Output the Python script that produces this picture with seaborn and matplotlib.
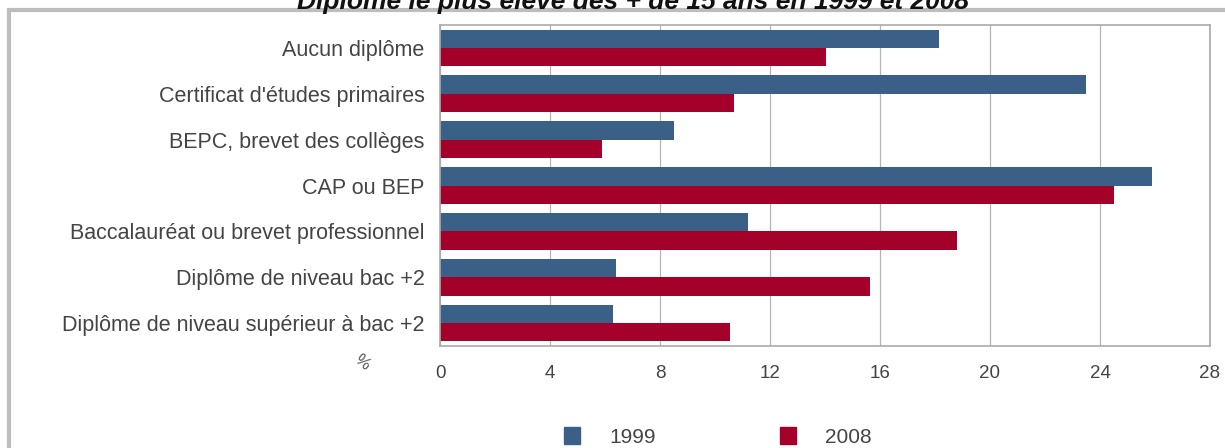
import matplotlib
matplotlib.use("Agg")
import matplotlib.pyplot as plt
import matplotlib.patches as mpatches
import seaborn as sns
import pandas as pd

categories = [
    "Aucun diplôme",
    "Certificat d'études primaires",
    "BEPC, brevet des collèges",
    "CAP ou BEP",
    "Baccalauréat ou brevet professionnel",
    "Diplôme de niveau bac +2",
    "Diplôme de niveau supérieur à bac +2",
]
years = ["1999", "2008"]
values_1999 = [18.15, 23.5, 8.5, 25.9, 11.2, 6.4, 6.3]
values_2008 = [14.05, 10.7, 5.9, 24.5, 18.8, 15.65, 10.55]
xticks = [0, 4, 8, 12, 16, 20, 24, 28]

colors = {"1999": "#3a6088", "2008": "#a3002a"}

df = pd.DataFrame({
    "diplome": categories * 2,
    "pct": values_1999 + values_2008,
    "annee": [years[0]] * len(categories) + [years[1]] * len(categories),
})

sns.set_style("white")
plt.rcParams['font.family'] = ['Liberation Sans', 'DejaVu Sans']

fig = plt.figure(figsize=(12.25, 4.48), dpi=100)
ax = fig.add_axes([440 / 1225, 1 - 346 / 448, 770 / 1225, 321 / 448])

sns.barplot(data=df, y="diplome", x="pct", hue="annee", orient="h",
            palette=colors, saturation=1, width=0.8, linewidth=0, ax=ax, legend=False)

ax.set_xlim(0, 28)
ax.set_xticks(xticks)
ax.set_xticklabels([str(t) for t in xticks], fontsize=13.5, color="#444444")
ax.tick_params(axis="x", length=0, pad=14)
ax.tick_params(axis="y", length=0, pad=11, labelsize=15.5, labelcolor="#444444")
ax.set_xlabel("")
ax.set_ylabel("")
ax.grid(axis="x", color="#b5b5b5", linewidth=0.9)
ax.set_axisbelow(True)
for s in ax.spines.values():
    s.set_color("#aaaaaa")
    s.set_linewidth(1.2)

ax.text(-0.101, -0.05, "%", transform=ax.transAxes, fontsize=12, color="#555555",
        rotation=-40, ha="center", va="center")

# outer frame
fig.patches.append(mpatches.Rectangle((9 / 1225, -0.05), 1.2, 1 - 10 / 448 + 0.05,
                                      transform=fig.transFigure, fill=False,
                                      edgecolor="#bdbdbd", linewidth=3))

fig.text(633 / 1225, 1 - 9 / 448, "Diplôme le plus élevé des + de 15 ans en 1999 et 2008",
         ha="center", va="baseline", fontsize=19, fontweight="bold",
         fontstyle="italic", color="#111111")

handles = [mpatches.Patch(color=colors[y], label=y) for y in years]
fig.legend(handles=handles, loc="center", bbox_to_anchor=(718 / 1225, 1 - 437 / 448),
           ncol=2, frameon=False, fontsize=15, handlelength=0.75, handleheight=0.85,
           columnspacing=6.0, handletextpad=1.4, labelcolor="#444444",
           borderpad=0, borderaxespad=0)

fig.savefig("out.png", dpi=100)
